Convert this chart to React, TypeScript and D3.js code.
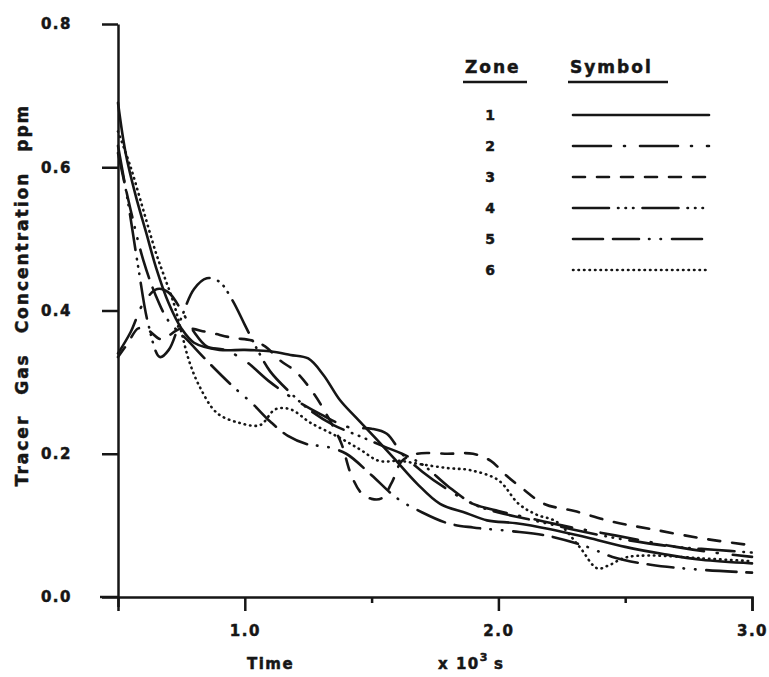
import * as d3 from 'd3';
import {useEffect, useRef} from 'react';

const width = 769;
const height = 677;

// legend entries
const zones = ['1', '2', '3', '4', '5', '6'];

// time (x 10^3 s) and tracer gas concentration (ppm)
const time1 = [0.5, 0.53, 0.57, 0.61, 0.65, 0.7, 0.75, 0.8, 0.9, 1.0, 1.1, 1.18, 1.25, 1.31, 1.375, 1.44, 1.52, 1.585, 1.68, 1.77, 1.875, 1.955, 2.07, 2.2, 2.35, 2.5, 2.65, 2.8, 3.0];
const conc1 = [0.69, 0.62, 0.56, 0.51, 0.46, 0.41, 0.375, 0.355, 0.345, 0.345, 0.343, 0.338, 0.333, 0.31, 0.275, 0.25, 0.22, 0.195, 0.158, 0.13, 0.117, 0.107, 0.103, 0.095, 0.083, 0.07, 0.06, 0.052, 0.047];

const time2 = [0.5, 0.55, 0.6, 0.655, 0.7, 0.75, 0.8, 0.85, 0.92, 1.0, 1.1, 1.2, 1.3, 1.41, 1.5, 1.56, 1.62, 1.7, 1.8, 1.9, 2.0, 2.1, 2.25, 2.4, 2.55, 2.7, 2.85, 3.0];
const conc2 = [0.34, 0.37, 0.41, 0.43, 0.425, 0.4, 0.37, 0.35, 0.345, 0.33, 0.3, 0.275, 0.255, 0.237, 0.235, 0.228, 0.2, 0.175, 0.15, 0.13, 0.12, 0.112, 0.1, 0.09, 0.08, 0.07, 0.062, 0.056];

const time3 = [0.5, 0.54, 0.58, 0.62, 0.67, 0.75, 0.85, 0.95, 1.03, 1.08, 1.14, 1.2, 1.27, 1.33, 1.38, 1.42, 1.46, 1.5, 1.54, 1.58, 1.62, 1.68, 1.8, 1.9, 1.97, 2.03, 2.1, 2.18, 2.3, 2.45, 2.6, 2.8, 3.0];
const conc3 = [0.335, 0.355, 0.375, 0.372, 0.36, 0.375, 0.37, 0.362, 0.358, 0.35, 0.33, 0.315, 0.285, 0.25, 0.215, 0.17, 0.145, 0.137, 0.138, 0.16, 0.19, 0.2, 0.2, 0.2, 0.19, 0.17, 0.15, 0.13, 0.12, 0.105, 0.095, 0.082, 0.072];

const time4 = [0.5, 0.54, 0.58, 0.62, 0.665, 0.7, 0.75, 0.8, 0.85, 0.9, 0.95, 1.0, 1.05, 1.1, 1.18, 1.26, 1.35, 1.45, 1.55, 1.62, 1.7, 1.8, 1.9, 2.0, 2.1, 2.2, 2.35, 2.5, 2.7, 2.85, 3.0];
const conc4 = [0.63, 0.55, 0.46, 0.38, 0.335, 0.345, 0.39, 0.43, 0.445, 0.44, 0.415, 0.38, 0.345, 0.315, 0.285, 0.26, 0.24, 0.225, 0.21, 0.2, 0.185, 0.155, 0.13, 0.118, 0.11, 0.102, 0.09, 0.08, 0.07, 0.066, 0.062];

const time5 = [0.5, 0.55, 0.6, 0.65, 0.7, 0.77, 0.85, 0.95, 1.03, 1.1, 1.17, 1.25, 1.32, 1.4, 1.5, 1.6, 1.7, 1.8, 1.9, 2.05, 2.2, 2.35, 2.45, 2.6, 2.8, 3.0];
const conc5 = [0.62, 0.54, 0.47, 0.42, 0.385, 0.36, 0.33, 0.295, 0.27, 0.245, 0.225, 0.213, 0.21, 0.2, 0.17, 0.138, 0.118, 0.103, 0.097, 0.092, 0.085, 0.07, 0.056, 0.045, 0.038, 0.034];

const time6 = [0.5, 0.55, 0.6, 0.65, 0.68, 0.72, 0.75, 0.78, 0.82, 0.89, 0.98, 1.06, 1.12, 1.18, 1.26, 1.36, 1.45, 1.53, 1.61, 1.7, 1.8, 1.89, 2.0, 2.08, 2.15, 2.23, 2.32, 2.39, 2.44, 2.5, 2.6, 2.8, 3.0];
const conc6 = [0.65, 0.6, 0.54, 0.48, 0.45, 0.41, 0.37, 0.33, 0.295, 0.257, 0.243, 0.24, 0.262, 0.262, 0.243, 0.225, 0.207, 0.19, 0.19, 0.185, 0.18, 0.177, 0.163, 0.13, 0.115, 0.105, 0.07, 0.04, 0.045, 0.055, 0.058, 0.054, 0.05];

const yTicks = [0, 0.2, 0.4, 0.6, 0.8];
const xTicks = [0.5, 1.0, 1.5, 2.0, 2.5, 3.0];
const xLabelled = [1.0, 2.0, 3.0];

// line symbols per zone (round caps, so dots are tiny dashes)
const dashes = ['none', '38 13 1 15', '12 12', '36 9 0.5 7 0.5 7 0.5 9', '30 10 26 10 0.5 11 0.5 11', '0.5 5'];

const ink = '#161616';
const font = '"DejaVu Sans", Verdana, sans-serif';

function App() {
  const ref = useRef<HTMLDivElement>(null);

  useEffect(() => {
    const series = [
      [time1, conc1],
      [time2, conc2],
      [time3, conc3],
      [time4, conc4],
      [time5, conc5],
      [time6, conc6],
    ].map(([t, c]) => t.map((v, i) => [v, c[i]] as [number, number]));

    const x = d3.scaleLinear().domain([0.5, 3.0]).range([118, 752]);
    const y = d3.scaleLinear().domain([0, 0.8]).range([597, 24]);

    const svg = d3
      .select(ref.current)
      .append('svg')
      .attr('width', width)
      .attr('height', height)
      .style('position', 'absolute')
      .style('left', '0px')
      .style('top', '0px')
      .style('background', '#fff');

    const boldText = sel =>
      sel
        .attr('fill', ink)
        .attr('stroke', ink)
        .attr('stroke-width', 0.5)
        .style('font-family', font)
        .style('font-weight', 'bold');

    // y axis
    const yAxis = d3
      .axisLeft(y)
      .tickValues(yTicks)
      .tickSize(16)
      .tickSizeOuter(0)
      .tickPadding(30)
      .tickFormat(d3.format('.1f'));
    const gy = svg.append('g').attr('transform', 'translate(118,0)').call(yAxis);
    gy.selectAll('path, line').attr('stroke', ink).attr('stroke-width', 2.5);
    boldText(gy.selectAll('text'))
      .style('font-size', '15px')
      .style('letter-spacing', '1.5px');

    // x axis
    const xAxis = d3
      .axisBottom(x)
      .tickValues(xTicks)
      .tickSizeOuter(0)
      .tickSize(14)
      .tickPadding(14)
      .tickFormat(d => (xLabelled.includes(+d) ? d3.format('.1f')(+d) : ''));
    const gx = svg.append('g').attr('transform', 'translate(0,597)').call(xAxis);
    gx.selectAll('path, line').attr('stroke', ink).attr('stroke-width', 2.5);
    gx.selectAll('.tick line').attr('y2', d => (xLabelled.includes(+d) ? 14 : d === 0.5 ? 10 : 6));
    boldText(gx.selectAll('text'))
      .style('font-size', '15px')
      .style('letter-spacing', '1.5px');
    svg
      .append('line')
      .attr('x1', 100)
      .attr('x2', 118)
      .attr('y1', 597)
      .attr('y2', 597)
      .attr('stroke', ink)
      .attr('stroke-width', 2.5);

    // axis titles
    const xTitle = boldText(svg.append('text').attr('y', 669))
      .style('font-size', '15px')
      .style('letter-spacing', '1.5px');
    xTitle.append('tspan').attr('x', 247).text('Time');
    xTitle.append('tspan').attr('x', 438).text('x 10');
    xTitle.append('tspan').attr('dy', -8).style('font-size', '11px').text('3');
    xTitle.append('tspan').attr('dy', 8).attr('dx', 5).text('s');

    boldText(
      svg
        .append('text')
        .attr('transform', 'translate(28,295) rotate(-90)')
        .attr('text-anchor', 'middle'),
    )
      .style('font-size', '17px')
      .style('letter-spacing', '2px')
      .style('word-spacing', '12px')
      .text('Tracer Gas Concentration ppm');

    // curves
    const line = d3
      .line<[number, number]>()
      .x(d => x(d[0]))
      .y(d => y(d[1]))
      .curve(d3.curveCatmullRom.alpha(0.5));

    svg
      .append('g')
      .selectAll('path')
      .data(series)
      .join('path')
      .attr('fill', 'none')
      .attr('stroke', ink)
      .attr('stroke-width', 2.6)
      .attr('stroke-linecap', 'round')
      .attr('stroke-dasharray', (d, i) => dashes[i])
      .attr('d', line);

    // legend
    const leg = svg.append('g');
    const head = (label, x0, x1) => {
      boldText(leg.append('text').attr('x', x0).attr('y', 73))
        .style('font-size', '17px')
        .style('letter-spacing', '2px')
        .text(label);
      leg
        .append('line')
        .attr('x1', x0 - 2)
        .attr('x2', x1)
        .attr('y1', 82)
        .attr('y2', 82)
        .attr('stroke', ink)
        .attr('stroke-width', 2.5);
    };
    head('Zone', 465, 527);
    head('Symbol', 570, 668);

    zones.forEach((z, i) => {
      const yy = 115 + i * 31;
      boldText(leg.append('text').attr('x', 490).attr('y', yy + 5).attr('text-anchor', 'middle'))
        .style('font-size', '14px')
        .text(z);
      leg
        .append('line')
        .attr('x1', 573)
        .attr('x2', 709)
        .attr('y1', yy)
        .attr('y2', yy)
        .attr('stroke', ink)
        .attr('stroke-width', 2.6)
        .attr('stroke-linecap', 'round')
        .attr('stroke-dasharray', dashes[i]);
    });

    return () => svg.remove();
  }, []);

  return <div ref={ref}></div>;
}

export default App;
